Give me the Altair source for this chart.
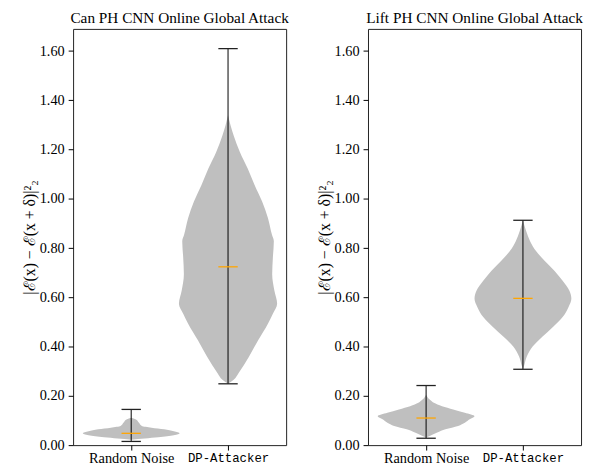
import altair as alt
import pandas as pd

# ---------------- data ----------------
categories = ["Random Noise", "DP-Attacker"]
positions = [1, 2]
titles = ["Can PH CNN Online Global Attack", "Lift PH CNN Online Global Attack"]

# violin half-widths (x units) at given y values
can_rn_y = [0.022, 0.027, 0.032, 0.040, 0.048, 0.056, 0.064, 0.071, 0.078, 0.092, 0.105, 0.111]
can_rn_w = [0.0, 0.14, 0.28, 0.44, 0.50, 0.44, 0.34, 0.21, 0.11, 0.078, 0.044, 0.0]
can_dp_y = [0.249, 0.265, 0.292, 0.359, 0.426, 0.493, 0.533, 0.574, 0.627, 0.694, 0.761,
            0.828, 0.855, 0.922, 0.989, 1.056, 1.123, 1.190, 1.257, 1.300, 1.339]
can_dp_w = [0.0, 0.058, 0.108, 0.216, 0.311, 0.412, 0.463, 0.507, 0.479, 0.456, 0.463,
            0.473, 0.453, 0.412, 0.352, 0.274, 0.203, 0.122, 0.058, 0.025, 0.0]
lift_rn_y = [0.030, 0.037, 0.051, 0.064, 0.078, 0.091, 0.105, 0.117, 0.131, 0.145, 0.158,
             0.172, 0.185, 0.205]
lift_rn_w = [0.0, 0.037, 0.115, 0.20, 0.33, 0.40, 0.45, 0.50, 0.40, 0.28, 0.165, 0.08, 0.037, 0.0]
lift_dp_y = [0.308, 0.320, 0.360, 0.400, 0.440, 0.480, 0.520, 0.560, 0.594, 0.627, 0.667,
             0.707, 0.748, 0.788, 0.828, 0.868, 0.913]
lift_dp_w = [0.0, 0.01, 0.04, 0.10, 0.20, 0.31, 0.41, 0.47, 0.50, 0.48, 0.41, 0.327, 0.226,
             0.135, 0.074, 0.034, 0.0]

# whisker extrema and medians
can_min = [0.015, 0.249]
can_max = [0.145, 1.610]
can_med = [0.048, 0.724]
lift_min = [0.028, 0.308]
lift_max = [0.242, 0.913]
lift_med = [0.110, 0.596]

y_ticks = [0.0, 0.2, 0.4, 0.6, 0.8, 1.0, 1.2, 1.4, 1.6]

SERIF = "Liberation Serif"
MONO = "Liberation Mono"
YTITLE = "|ℰ(x) − ℰ(x + δ)|²₂"

yscale = alt.Scale(domain=[0, 1.69], nice=False, zero=False)
xscale = alt.Scale(domain=[0.4, 2.6], nice=False, zero=False)


def axes():
    yaxis = alt.Axis(values=y_ticks, format=".2f", title=YTITLE, grid=False,
                     labelFont=SERIF, labelFontSize=14.5, labelColor="black",
                     titleFont=SERIF, titleFontSize=16, titleFontWeight="normal",
                     titleColor="black", titlePadding=2, labelPadding=4,
                     tickSize=5, tickColor="black", domain=False)
    xaxis = alt.Axis(values=positions, title=None, grid=False,
                     labelExpr="datum.value == 1 ? 'Random Noise' : 'DP-Attacker'",
                     labelFont={"condition": {"test": "datum.value == 2", "value": MONO},
                                "value": SERIF},
                     labelFontSize={"condition": {"test": "datum.value == 2", "value": 12.5},
                                    "value": 14.5},
                     labelColor="black", labelPadding=2, tickSize=5,
                     tickColor="black", domain=False, labelAngle=0)
    return xaxis, yaxis


def violin(ys, ws, pos, xaxis, yaxis):
    df = pd.DataFrame({"v": ys, "hw": ws, "pos": pos})
    return alt.Chart(df).transform_calculate(
        xl="datum.pos - datum.hw", xr="datum.pos + datum.hw"
    ).mark_area(orient="horizontal", color="#bfbfbf", opacity=1, strokeWidth=0,
                interpolate="monotone").encode(
        y=alt.Y("v:Q", scale=yscale, axis=yaxis),
        x=alt.X("xl:Q", scale=xscale, axis=xaxis, stack=None),
        x2="xr:Q",
    )


def panel(rn, dp, mins, maxs, meds, title):
    xaxis, yaxis = axes()
    v1 = violin(rn[0], rn[1], positions[0], xaxis, yaxis)
    v2 = violin(dp[0], dp[1], positions[1], xaxis, yaxis)
    sdf = pd.DataFrame({"pos": positions, "lo": mins, "hi": maxs, "med": meds})
    sb = alt.Chart(sdf).transform_calculate(
        cl="datum.pos - 0.1", cr="datum.pos + 0.1"
    )
    whisk = sb.mark_rule(color="black", strokeWidth=1).encode(
        x=alt.X("pos:Q", scale=xscale), y=alt.Y("lo:Q", scale=yscale), y2="hi:Q")
    cap_lo = sb.mark_rule(color="#222222", strokeWidth=1.3).encode(
        x="cl:Q", x2="cr:Q", y="lo:Q")
    cap_hi = sb.mark_rule(color="#222222", strokeWidth=1.3).encode(
        x="cl:Q", x2="cr:Q", y="hi:Q")
    med = sb.mark_rule(color="#ffa500", strokeWidth=1.3).encode(
        x="cl:Q", x2="cr:Q", y="med:Q")

    return alt.layer(v1, v2, whisk, cap_lo, cap_hi, med).properties(
        width=216, height=422,
        title=alt.TitleParams(title, font=SERIF, fontSize=15.5, fontWeight="normal",
                              color="black", anchor="middle", offset=2),
    )


left = panel((can_rn_y, can_rn_w), (can_dp_y, can_dp_w), can_min, can_max, can_med, titles[0])
right = panel((lift_rn_y, lift_rn_w), (lift_dp_y, lift_dp_w), lift_min, lift_max, lift_med, titles[1])

chart = alt.hconcat(left, right, spacing=26).properties(
    padding={"left": 13, "top": 0, "right": 0, "bottom": 0}
).configure(background="white").configure_view(stroke="#222222", strokeWidth=1)

chart.save("out.html", embed_options={"renderer": "svg", "actions": False})
